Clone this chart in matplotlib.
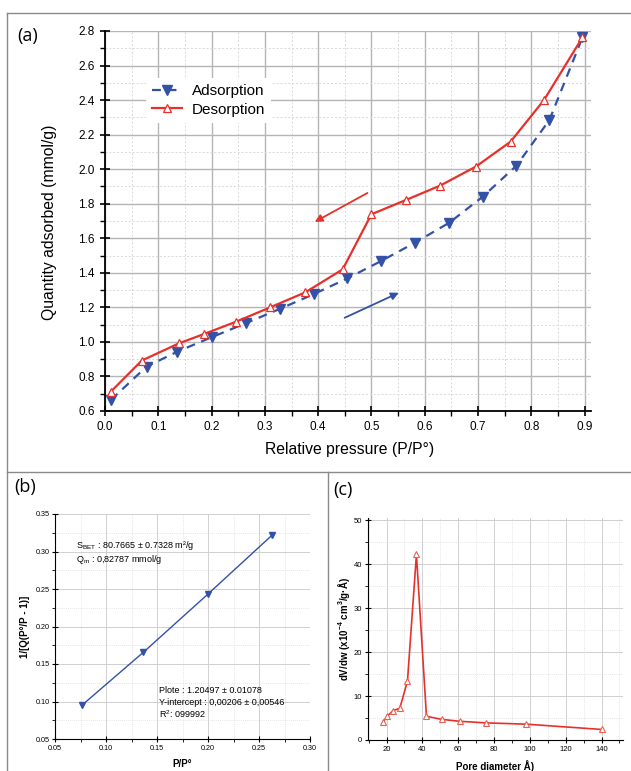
import numpy as np
import matplotlib
matplotlib.use('Agg')
import matplotlib.pyplot as plt
from matplotlib.lines import Line2D
from matplotlib.ticker import MultipleLocator

plt.rcParams['font.family'] = ['Liberation Sans', 'DejaVu Sans']
plt.rcParams['mathtext.fontset'] = 'custom'
plt.rcParams['mathtext.rm'] = 'Liberation Sans'
plt.rcParams['mathtext.it'] = 'Liberation Sans:italic'
plt.rcParams['mathtext.bf'] = 'Liberation Sans:bold'

# (a) isotherm
ads_p = [0.011, 0.078, 0.136, 0.200, 0.264, 0.328, 0.392, 0.455, 0.518, 0.582, 0.646, 0.709, 0.772, 0.834, 0.896]
ads_q = [0.664, 0.857, 0.944, 1.027, 1.108, 1.191, 1.277, 1.368, 1.468, 1.575, 1.690, 1.841, 2.020, 2.285, 2.763]
des_p = [0.011, 0.069, 0.139, 0.186, 0.246, 0.310, 0.376, 0.446, 0.500, 0.565, 0.629, 0.696, 0.761, 0.824, 0.896]
des_q = [0.712, 0.892, 0.992, 1.046, 1.117, 1.200, 1.287, 1.420, 1.739, 1.822, 1.905, 2.015, 2.159, 2.401, 2.763]
des_arrow = [(0.497, 1.870), (0.389, 1.687)]
ads_arrow = [(0.445, 1.133), (0.556, 1.291)]

# (b) BET plot
bet_x = [0.0768, 0.1366, 0.2000, 0.2630]
bet_y = [0.0955, 0.1656, 0.2433, 0.3220]

# (c) pore size distribution
pore_d = [18.1, 20.4, 23.7, 27.4, 31.7, 36.7, 42.3, 50.7, 60.9, 75.4, 98.1, 140.0]
pore_v = [4.1, 5.4, 6.7, 7.2, 13.4, 42.2, 5.4, 4.7, 4.25, 3.9, 3.6, 2.4]

blue = '#3451a8'
red = '#e8302a'

fig = plt.figure(figsize=(6.31, 7.71), dpi=100)

# ---------- panel (a)
ax = fig.add_axes([105/631, 1-411/771, 486/631, 380/771])
ax.plot(ads_p, ads_q, color=blue, lw=1.6, dashes=(4, 3), marker='v', ms=7,
        mfc=blue, mec=blue, label='Adsorption', zorder=3)
ax.plot(des_p, des_q, color=red, lw=1.6, marker='^', ms=5.5,
        mfc='white', mec=red, mew=0.9, label='Desorption', zorder=4)
ax.annotate('', xy=des_arrow[1], xytext=des_arrow[0],
            arrowprops=dict(arrowstyle='-|>', color=red, lw=1.3, mutation_scale=11))
ax.annotate('', xy=ads_arrow[1], xytext=ads_arrow[0],
            arrowprops=dict(arrowstyle='-|>', color=blue, lw=1.3, mutation_scale=11))
ax.set_xlim(0, 0.912)
ax.set_ylim(0.6, 2.8)
ax.xaxis.set_major_locator(MultipleLocator(0.1))
ax.xaxis.set_minor_locator(MultipleLocator(0.05))
ax.yaxis.set_major_locator(MultipleLocator(0.2))
ax.yaxis.set_minor_locator(MultipleLocator(0.1))
ax.xaxis.set_major_formatter(matplotlib.ticker.FormatStrFormatter('%.1f'))
ax.yaxis.set_major_formatter(matplotlib.ticker.FormatStrFormatter('%.1f'))
ax.grid(which='major', color='#b5b5b5', lw=1.0)
ax.grid(which='minor', color='#d9d9d9', lw=0.7, ls=(0, (2, 2)))
ax.set_axisbelow(True)
for s in ['top', 'right']:
    ax.spines[s].set_visible(False)
for s in ['left', 'bottom']:
    ax.spines[s].set_linewidth(1.3)
ax.tick_params(which='major', direction='inout', length=7, width=1.2, labelsize=8.5, pad=4)
ax.tick_params(which='minor', direction='out', length=3.5, width=1.0)
ax.set_xlabel('Relative pressure (P/P°)', fontsize=11.3)
ax.set_ylabel('Quantity adsorbed (mmol/g)', fontsize=11.3)
ax.xaxis.set_label_coords(0.503, -0.082)
ax.yaxis.set_label_coords(-0.099, 0.496)
leg = ax.legend(loc='upper left', bbox_to_anchor=(0.084, 0.876), borderaxespad=0,
                fontsize=11, frameon=True, fancybox=False, edgecolor='none',
                facecolor='white', framealpha=1, handlelength=2.0,
                handletextpad=0.6, labelspacing=0.3, borderpad=0.4, numpoints=1)

# ---------- panel (b)
bx = fig.add_axes([55/631, 1-739/771, 255/631, 225/771])
bx.plot(bet_x, bet_y, color=blue, lw=1.0, marker='v', ms=4, mfc=blue, mec=blue)
bx.set_xlim(0.05, 0.30)
bx.set_ylim(0.05, 0.35)
bx.xaxis.set_major_locator(MultipleLocator(0.05))
bx.xaxis.set_minor_locator(MultipleLocator(0.025))
bx.yaxis.set_major_locator(MultipleLocator(0.05))
bx.yaxis.set_minor_locator(MultipleLocator(0.025))
bx.xaxis.set_major_formatter(matplotlib.ticker.FormatStrFormatter('%.2f'))
bx.yaxis.set_major_formatter(matplotlib.ticker.FormatStrFormatter('%.2f'))
bx.grid(which='major', color='#d0d0d0', lw=0.7)
bx.grid(which='minor', color='#dcdcdc', lw=0.6, ls=(0, (1, 1.5)))
bx.set_axisbelow(True)
for s in ['top', 'right']:
    bx.spines[s].set_visible(False)
bx.tick_params(which='major', direction='inout', length=4, width=0.8, labelsize=5.2, pad=2)
bx.tick_params(which='minor', direction='out', length=2, width=0.6)
bx.set_xlabel('P/P°', fontsize=7, fontweight='bold')
bx.set_ylabel('1/[Q(P°/P - 1)]', fontsize=7, fontweight='bold')
bx.xaxis.set_label_coords(0.5, -0.09)
bx.yaxis.set_label_coords(-0.1, 0.5)
bx.text(0.071, 0.308, r'S$_{\mathrm{BET}}$ : 80.7665 ± 0.7328 m²/g', fontsize=6.5, va='center')
bx.text(0.071, 0.290, r'Q$_{\mathrm{m}}$ : 0,82787 mmol/g', fontsize=6.5, va='center')
bx.text(0.152, 0.115, 'Plote : 1.20497 ± 0.01078', fontsize=6.5, va='center')
bx.text(0.152, 0.099, 'Y-intercept : 0,00206 ± 0,00546', fontsize=6.5, va='center')
bx.text(0.152, 0.083, 'R$^2$: 099992', fontsize=6.5, va='center')

# ---------- panel (c)
cx = fig.add_axes([367.7/631, 1-740/771, 255.3/631, 222/771])
cx.plot(pore_d, pore_v, color=red, lw=1.2, marker='^', ms=5,
        mfc='white', mec='#e86050', mew=0.8)
cx.set_xlim(9.5, 152)
cx.set_ylim(0, 50.5)
cx.xaxis.set_major_locator(MultipleLocator(20))
cx.xaxis.set_minor_locator(MultipleLocator(10))
cx.yaxis.set_major_locator(MultipleLocator(10))
cx.yaxis.set_minor_locator(MultipleLocator(5))
cx.grid(which='major', color='#d0d0d0', lw=0.7)
cx.grid(which='minor', color='#dcdcdc', lw=0.6, ls=(0, (1, 1.5)))
cx.set_axisbelow(True)
for s in ['top', 'right']:
    cx.spines[s].set_visible(False)
cx.tick_params(which='major', direction='inout', length=4, width=0.8, labelsize=5.5, pad=2)
cx.tick_params(which='minor', direction='out', length=2, width=0.6)
cx.set_xlabel('Pore diameter Å)', fontsize=7, fontweight='bold')
cx.set_ylabel(r'dV/dw (x10$^{\mathbf{-4}}$ cm$^{\mathbf{3}}$/g·Å)', fontsize=7, fontweight='bold')
cx.xaxis.set_label_coords(0.5, -0.09)
cx.yaxis.set_label_coords(-0.06, 0.5)

# ---------- panel frames and labels
fcol = '#8a8a8a'
fig.add_artist(Line2D([7.3/631, 1], [1-13.3/771, 1-13.3/771], color=fcol, lw=1.0))
fig.add_artist(Line2D([7.3/631, 7.3/631], [0, 1-13.3/771], color=fcol, lw=1.0))
fig.add_artist(Line2D([7.3/631, 1], [1-471.7/771, 1-471.7/771], color=fcol, lw=1.0))
fig.add_artist(Line2D([328.3/631, 328.3/631], [0, 1-471.7/771], color=fcol, lw=1.0))
fig.text(28/631, 1-36/771, '(a)', fontsize=13, family='Open Sans', ha='center', va='center')
fig.text(25/631, 1-487/771, '(b)', fontsize=13, family='Open Sans', ha='center', va='center')
fig.text(343/631, 1-490/771, '(c)', fontsize=13, family='Open Sans', ha='center', va='center')

fig.savefig('out.png', dpi=100)
